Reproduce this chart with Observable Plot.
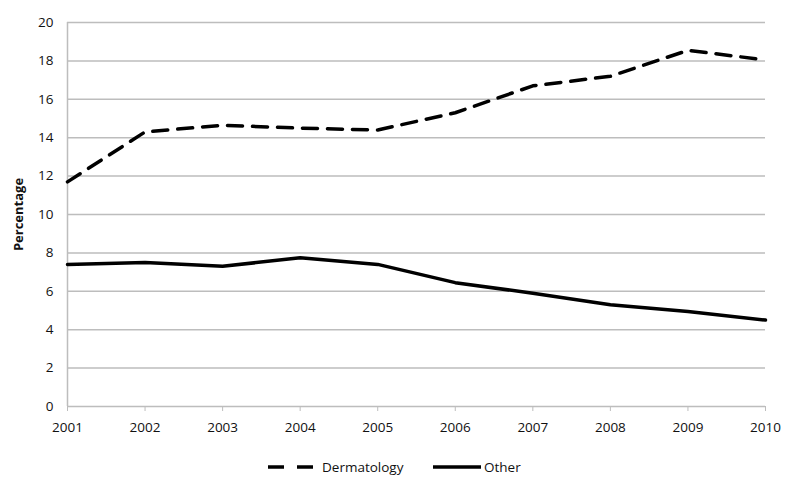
<!DOCTYPE html>
<html>
<head>
<meta charset="utf-8">
<script src="https://cdn.jsdelivr.net/npm/d3@7"></script>
<script src="https://cdn.jsdelivr.net/npm/@observablehq/plot@0.6"></script>
<style>
  html, body { margin: 0; padding: 0; background: #fff; }
  body { width: 800px; height: 492px; overflow: hidden; font-family: "Open Sans", sans-serif; }
  #legend { position: relative; height: 40px; font-size: 13px; color: #000; }
  #legend svg { position: absolute; left: 0; top: 0; }
</style>
</head>
<body>
<div id="chart"></div>
<div id="legend"></div>
<script>
const years = [2001, 2002, 2003, 2004, 2005, 2006, 2007, 2008, 2009, 2010];
const dermatology = [11.7, 14.3, 14.65, 14.5, 14.4, 15.3, 16.7, 17.2, 18.55, 18.05];
const other = [7.4, 7.5, 7.3, 7.75, 7.4, 6.45, 5.9, 5.3, 4.95, 4.5];
const yTicks = [0, 2, 4, 6, 8, 10, 12, 14, 16, 18, 20];
const seriesNames = ["Dermatology", "Other"];

const derm = years.map((y, i) => ({year: y, value: dermatology[i]}));
const oth = years.map((y, i) => ({year: y, value: other[i]}));

const chart = Plot.plot({
  width: 800,
  height: 445,
  marginLeft: 67,
  marginRight: 35,
  marginTop: 22,
  marginBottom: 39,
  style: {fontFamily: "Open Sans, sans-serif", fontSize: "13.5px", color: "#111", background: "#fff"},
  x: {domain: [2001, 2010], label: null},
  y: {domain: [0, 20], label: null},
  marks: [
    Plot.ruleY(yTicks.filter(t => t > 0), {stroke: "#bdbdbd", strokeWidth: 1.5}),
    Plot.ruleX([2001], {stroke: "#bdbdbd", strokeWidth: 1.5}),
    Plot.ruleY([0], {stroke: "#bdbdbd", strokeWidth: 1.5}),
    Plot.axisX({ticks: years, tickFormat: d => String(d), tickSize: 5, tickPadding: 11, stroke: "#bdbdbd", label: null, fontSize: 13.5}),
    Plot.axisY({ticks: yTicks, tickSize: 0, tickPadding: 14, label: null, fontSize: 13.5}),
    Plot.line(derm, {x: "year", y: "value", stroke: "#000", strokeWidth: 3.5, strokeDasharray: "15,10", strokeLinecap: "round", strokeLinejoin: "round", curve: "linear"}),
    Plot.line(oth, {x: "year", y: "value", stroke: "#000", strokeWidth: 3.5, strokeLinejoin: "round", curve: "linear"}),
    Plot.text(["Percentage"], {frameAnchor: "left", dx: -49, rotate: -90, fontWeight: "bold", fontSize: 13, textAnchor: "middle"})
  ]
});
chart.querySelectorAll('[aria-label="x-axis tick"] path').forEach(p => p.setAttribute("stroke", "#bdbdbd"));
document.getElementById("chart").appendChild(chart);

const leg = d3.select("#legend").append("svg").attr("width", 800).attr("height", 40);
const items = [
  {name: seriesNames[0], x1: 268, x2: 320, dash: "16,13", tx: 322},
  {name: seriesNames[1], x1: 433, x2: 481, dash: null, tx: 484}
];
items.forEach(it => {
  leg.append("line").attr("x1", it.x1).attr("x2", it.x2).attr("y1", 22).attr("y2", 22)
    .attr("stroke", "#000").attr("stroke-width", 3.5).attr("stroke-dasharray", it.dash);
  leg.append("text").attr("x", it.tx).attr("y", 27).text(it.name)
    .attr("font-size", 13.5).attr("fill", "#111").attr("font-family", "Open Sans, sans-serif");
});
</script>
</body>
</html>
